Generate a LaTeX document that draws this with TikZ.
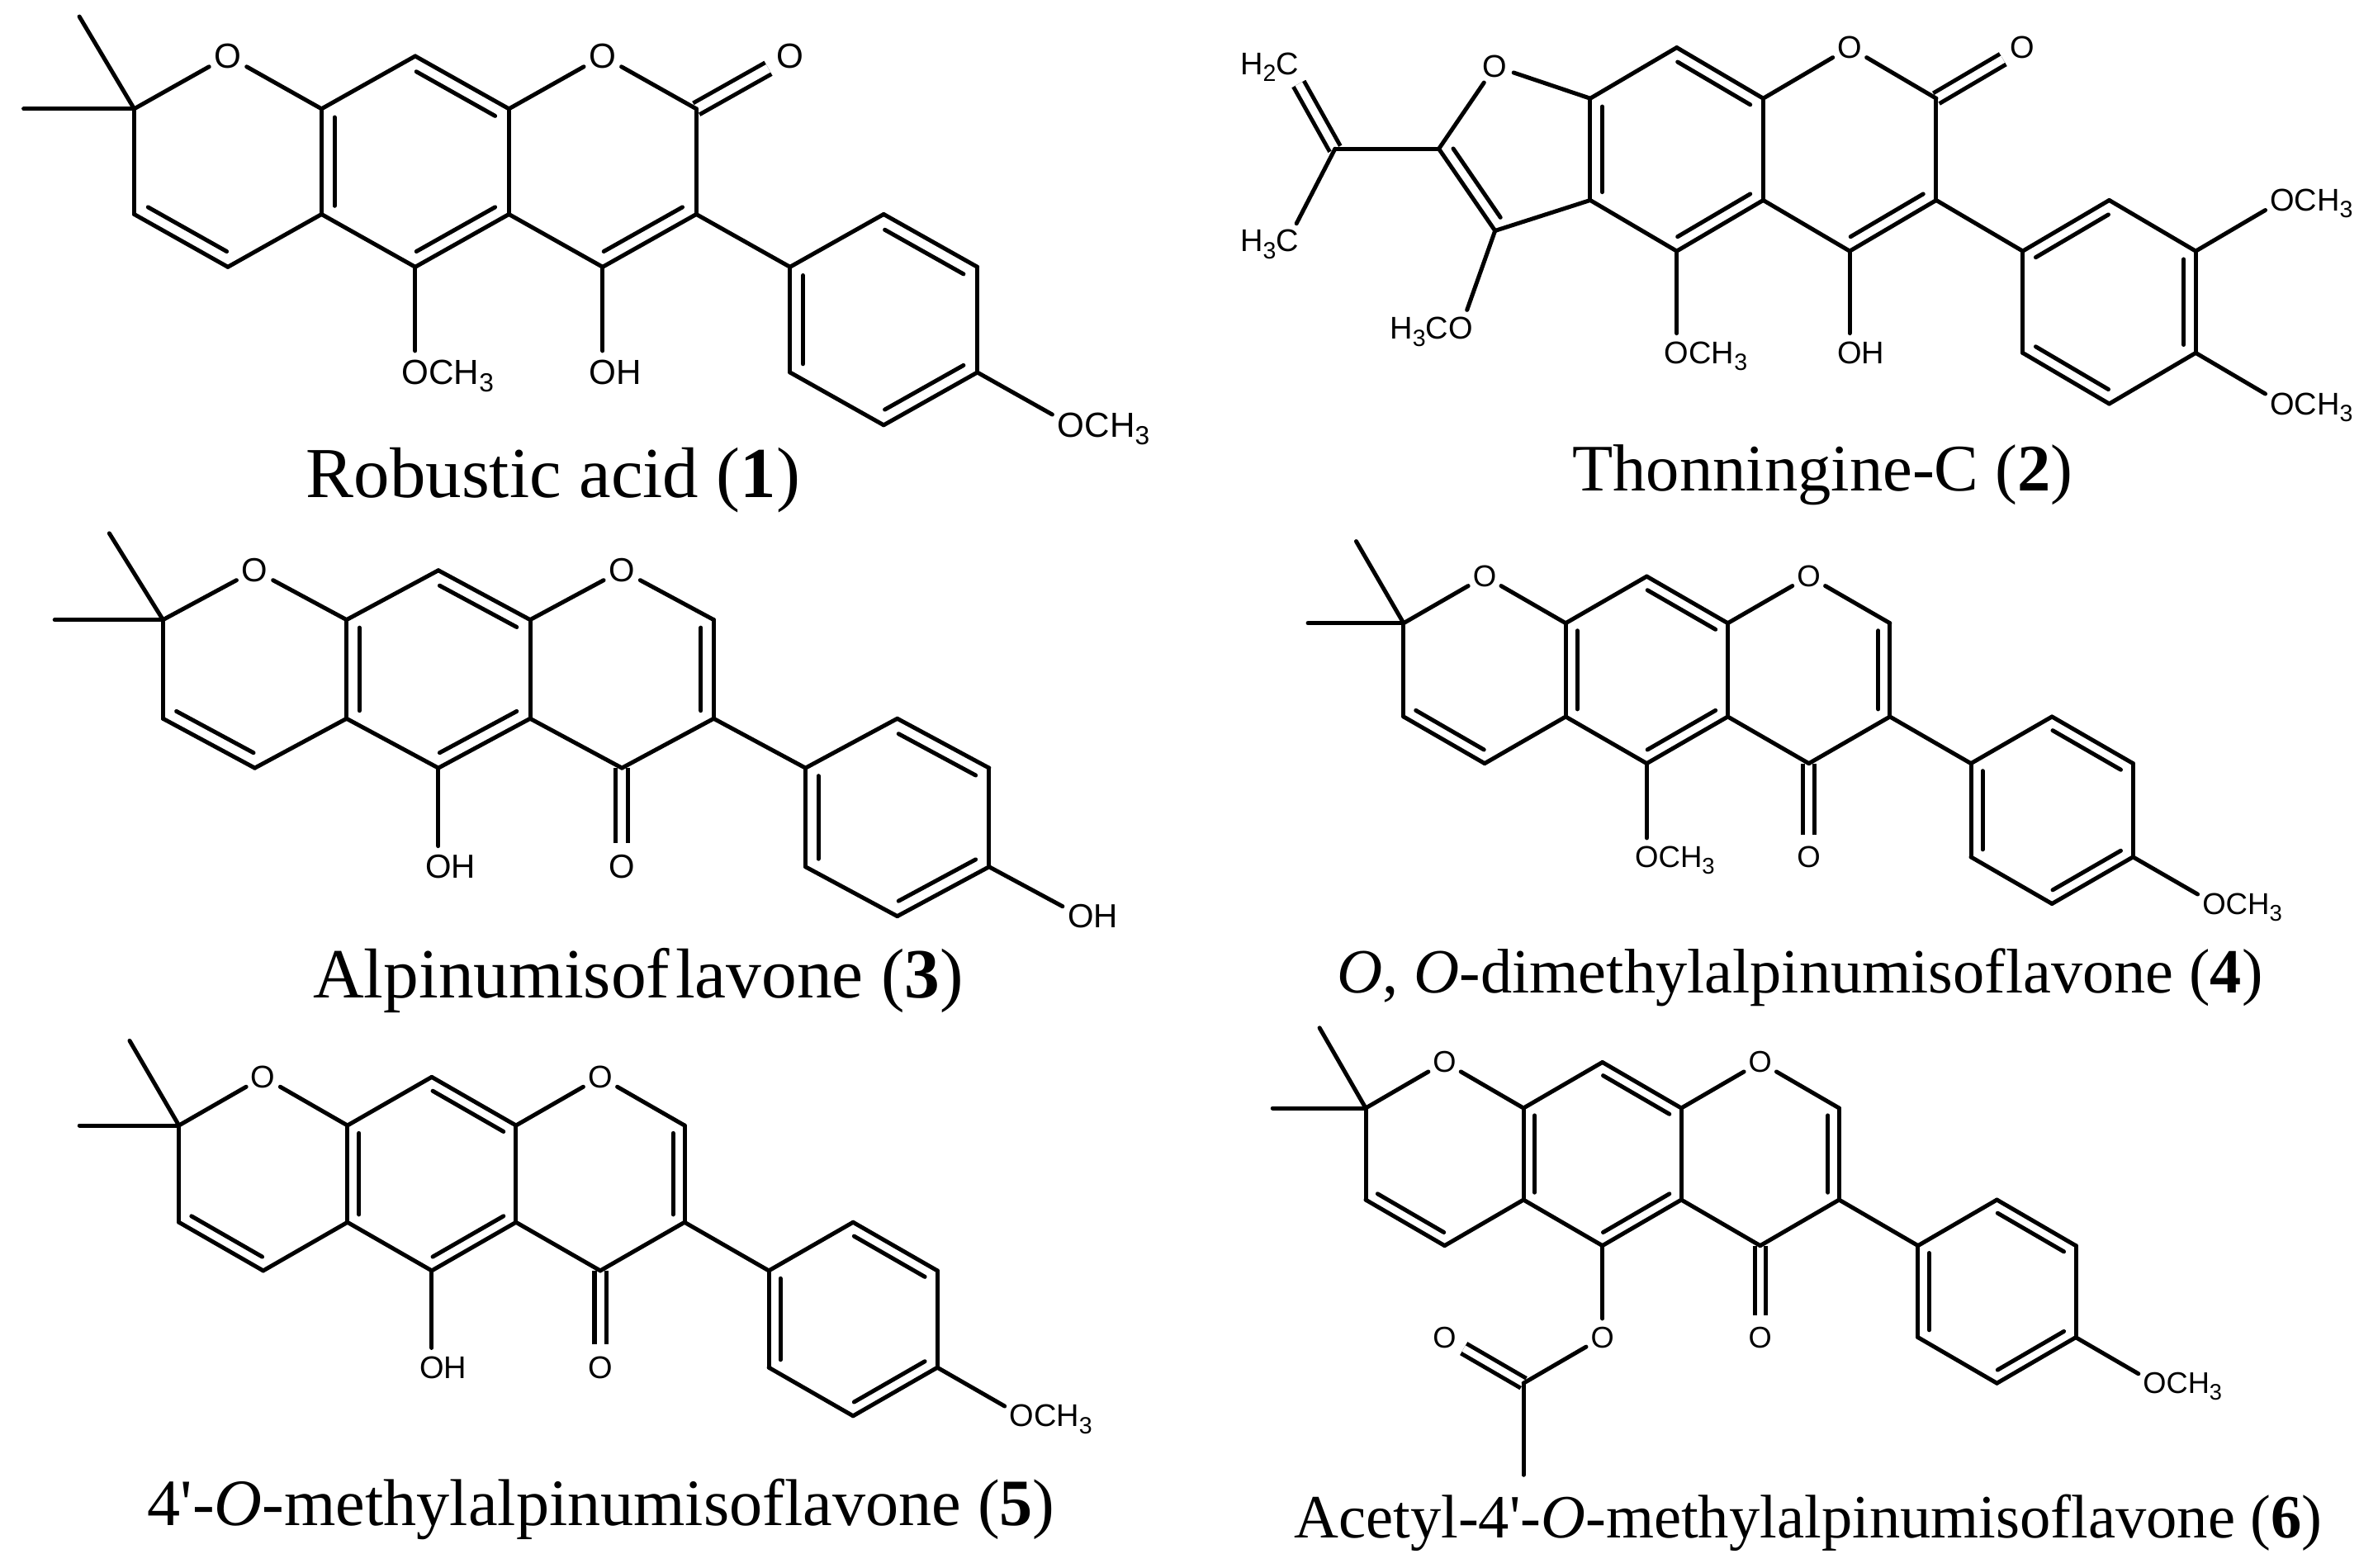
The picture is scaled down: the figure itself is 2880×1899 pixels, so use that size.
\documentclass[tikz,border=0pt]{standalone}
\usepackage{fontspec}
\setmainfont{Liberation Serif}
\newfontfamily\atomfam{Liberation Sans}
\usetikzlibrary{calc}

\tikzset{atom/.style={circle,inner sep=0pt,minimum size=\atomfs*1.12,
           font=\atomfam\fontsize{\atomfs}{\atomfs}\selectfont},
         cdbl/.style={double,double distance=\dgap-.05cm,line cap=butt,shorten >=.04cm},
         capt/.style={anchor=base,inner sep=0pt,font=\fontsize{#1}{#1}\selectfont}}

\newcommand\rtail[1]{\smash{\rlap{#1}}}
\newcommand\ltail[1]{\smash{\llap{#1}}}
\newcommand\subnum[1]{\raisebox{-.22em}{\fontsize{\the\dimexpr\atomfs*3/4\relax}{0pt}\selectfont #1}}
\newcommand\innerbond[2]{\path ($(#1)!.08!(#2)!\dgap!90:(#2)$) edge ($(#2)!.08!(#1)!\dgap!-90:(#1)$);}

\newcommand\coreatoms{
  \foreach \n/\p in {c8a/{2,0},c8/{3,-1},c8b/{4,0},c2/{6,0},c3/{6,2},c4/{5,3},c4a/{4,2},c5/{3,3},c5a/{2,2},
                     a1/{7,3},a2/{8,2},a3/{9,3},a4/{9,5},a5/{8,6},a6/{7,5}}
    \coordinate (\n) at (\p);
  \node[atom] (o1) at (5,-1) {O};
}
\newcommand\corebonds{
  \path (c8a) edge (c8) edge (c5a)
        (c8)  edge (c8b)
        (c8b) edge (o1) edge (c4a)
        (o1)  edge (c2)
        (c4a) edge (c4) edge (c5)
        (c5)  edge (c5a)
        (c3)  edge (a1)
        ;
  \innerbond{c8a}{c5a}
  \innerbond{c8b}{c8}
  \innerbond{c5}{c4a}
}
\newcommand\pyranring{
  \foreach \n/\p in {gem/{0,0},c10/{0,2},c9/{1,3},me1/{-.585,-1.75},me2/{-1.18,0}}
    \coordinate (\n) at (\p);
  \node[atom] (o7) at (1,-1) {O};
  \path (gem) edge (o7) edge (me1) edge (me2) edge (c10)
        (o7)  edge (c8a)
        (c10) edge (c9)
        (c9)  edge (c5a)
        ;
  \innerbond{c10}{c9}
}
\newcommand\paraaryl{
  \path (a1) edge (a2) edge (a6)
        (a2) edge (a3)
        (a3) edge (a4)
        (a4) edge (a5)
        (a5) edge (a6)
        ;
  \innerbond{a3}{a2}
  \innerbond{a5}{a4}
  \innerbond{a1}{a6}
}
\newcommand\flavone{
  \node[atom] (ko) at (5,5) {O};
  \path (c4) edge[cdbl] (ko);
  \corebonds
  \path (c2) edge (c3)
        (c3) edge (c4)
        ;
  \innerbond{c3}{c2}
}

\begin{document}
\begin{tikzpicture}[x=.01cm,y=-.01cm,line width=.05cm,line cap=round]
  \useasboundingbox (0,0) rectangle (2880,1899);

  % robustic acid
  \begin{scope}[shift={(162.5,131.8)},x=1.134cm,y=-.638cm,name prefix=m1-]
    \def\atomfs{12pt}\def\dgap{.157cm}
    \coreatoms
    \node[atom] (ko) at (7,-1) {O};
    \node[atom] (o5) at (3,5) {O\rtail{CH\subnum{3}}};
    \node[atom] (o4) at (5,5) {O\rtail{H}};
    \node[atom] (op) at (10,6) {O\rtail{CH\subnum{3}}};
    \path (c2) edge[cdbl] (ko);
    \corebonds
    \pyranring
    \paraaryl
    \path (c2) edge (c3)
          (c3) edge (c4)
          (c5) edge (o5)
          (c4) edge (o4)
          (a4) edge (op)
          ;
    \innerbond{c4}{c3}
  \end{scope}

  % thonningine-C
  \begin{scope}[shift={(1716.4,119.2)},x=1.047cm,y=-.616cm,name prefix=m2-]
    \def\atomfs{10.8pt}\def\dgap{.145cm}
    \coreatoms
    \node[atom] (ko) at (7,-1) {O};
    \node[atom] (o5) at (3,5) {O\rtail{CH\subnum{3}}};
    \node[atom] (o4) at (5,5) {O\rtail{H}};
    \node[atom] (om) at (10,2) {O\rtail{CH\subnum{3}}};
    \node[atom] (op) at (10,6) {O\rtail{CH\subnum{3}}};
    \node[atom] (fo) at (.9,-.63) {O};
    \node[atom] (ch2) at (-1.5,-.68) {\ltail{H\subnum{2}}C};
    \node[atom] (ch3) at (-1.5,2.8) {\ltail{H\subnum{3}}C};
    \node[atom] (o3) at (.5,4.52) {\ltail{H\subnum{3}C}O};
    \coordinate (fc2) at (.25,.99);
    \coordinate (fc3) at (.9,2.6);
    \coordinate (ipr) at (-.95,.99);
    \path (c2) edge[cdbl] (ko)
          (ipr) edge[cdbl] (ch2);
    \corebonds
    \path (c2) edge (c3)
          (c3) edge (c4)
          (c5) edge (o5)
          (c4) edge (o4)
          (a1) edge (a2) edge (a6)
          (a2) edge (a3)
          (a3) edge (a4) edge (om)
          (a4) edge (a5) edge (op)
          (a5) edge (a6)
          (fo) edge (c8a) edge (fc2)
          (fc2) edge (fc3) edge (ipr)
          (fc3) edge (c5a) edge (o3)
          (ipr) edge (ch3)
          ;
    \innerbond{c4}{c3}
    \innerbond{a2}{a1}
    \innerbond{a4}{a3}
    \innerbond{a6}{a5}
    \innerbond{fc2}{fc3}
  \end{scope}

  % alpinumisoflavone
  \begin{scope}[shift={(197.4,750.6)},x=1.111cm,y=-.598cm,name prefix=m3-]
    \def\atomfs{11.5pt}\def\dgap{.155cm}
    \coreatoms
    \flavone
    \pyranring
    \paraaryl
    \node[atom] (o5) at (3,5) {O\rtail{H}};
    \node[atom] (op) at (10,6) {O\rtail{H}};
    \path (c5) edge (o5)
          (a4) edge (op)
          ;
  \end{scope}

  % dimethylalpinumisoflavone
  \begin{scope}[shift={(1699.9,754.7)},x=.981cm,y=-.566cm,name prefix=m4-]
    \def\atomfs{10.4pt}\def\dgap{.14cm}
    \coreatoms
    \flavone
    \pyranring
    \paraaryl
    \node[atom] (o5) at (3,5) {O\rtail{CH\subnum{3}}};
    \node[atom] (op) at (10,6) {O\rtail{CH\subnum{3}}};
    \path (c5) edge (o5)
          (a4) edge (op)
          ;
  \end{scope}

  % methylalpinumisoflavone
  \begin{scope}[shift={(216.7,1363)},x=1.02cm,y=-.586cm,name prefix=m5-]
    \def\atomfs{10.8pt}\def\dgap{.14cm}
    \coreatoms
    \flavone
    \pyranring
    \paraaryl
    \node[atom] (o5) at (3,5) {O\rtail{H}};
    \node[atom] (op) at (10,6) {O\rtail{CH\subnum{3}}};
    \path (c5) edge (o5)
          (a4) edge (op)
          ;
  \end{scope}

  % acetyl derivative
  \begin{scope}[shift={(1654,1342)},x=.955cm,y=-.555cm,name prefix=m6-]
    \def\atomfs{10.3pt}\def\dgap{.135cm}
    \coreatoms
    \flavone
    \pyranring
    \paraaryl
    \node[atom] (o5) at (3,5) {O};
    \node[atom] (oa) at (1,5) {O};
    \node[atom] (op) at (10,6) {O\rtail{CH\subnum{3}}};
    \coordinate (ac) at (2,6);
    \coordinate (acme) at (2,8);
    \path (ac) edge[cdbl] (oa);
    \path (c5) edge (o5)
          (o5) edge (ac)
          (ac) edge (acme)
          (a4) edge (op)
          ;
  \end{scope}

  \node[capt=24.7pt] (cap1) at (670,602) {Robustic acid (\textbf{1})};
  \node[capt=22.9pt] (cap2) at (2207.5,594) {Thonningine-C (\textbf{2})};
  \node[capt=24.3pt] (cap3) at (773,1208) {Alpinumisof\kern.08em lavone (\textbf{3})};
  \node[capt=21.7pt] (cap4) at (2180,1202) {\textit{O}, \textit{O}-dimethylalpinumisoflavone (\textbf{4})};
  \node[capt=22.8pt] (cap5) at (728,1847) {4\textquotesingle-\textit{O}-methylalpinumisoflavone (\textbf{5})};
  \node[capt=21.2pt] (cap6) at (2190,1862) {Acetyl-4\textquotesingle-\textit{O}-methylalpinumisoflavone (\textbf{6})};
\end{tikzpicture}
\end{document}
